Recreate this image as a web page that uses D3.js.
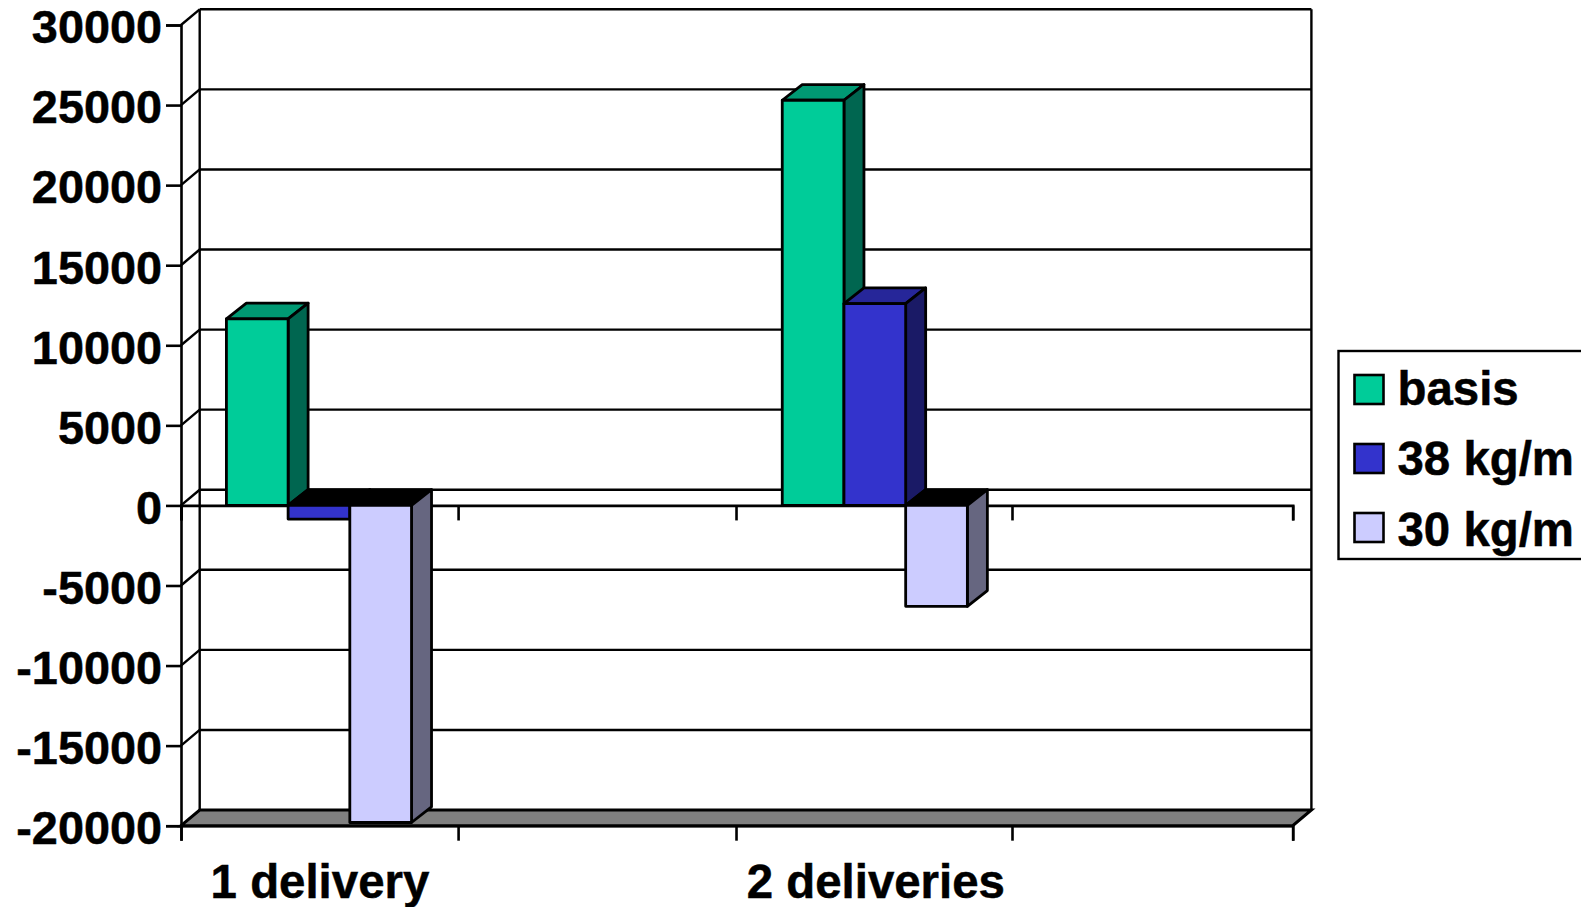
<!DOCTYPE html>
<html>
<head>
<meta charset="utf-8">
<script src="https://cdn.jsdelivr.net/npm/d3@7"></script>
<style>
  html, body { margin: 0; padding: 0; background: #fff; overflow: hidden; }
  text { font-family: "Liberation Sans", Arial, sans-serif; font-weight: bold; fill: #000; stroke: #000; stroke-width: 0.5px; }
</style>
</head>
<body>
<svg id="chart" width="1581" height="907"></svg>
<script>
// Chart data
const categories = ['1 delivery', '', '2 deliveries', ''];
const seriesNames = ['basis', '38 kg/m', '30 kg/m'];
const basis = [11650, null, 25300, null];
const kg38 = [-850, null, 12600, null];
const kg30 = [-19800, null, -6300, null];
const yTicks = [30000, 25000, 20000, 15000, 10000, 5000, 0, -5000, -10000, -15000, -20000];
const xTickValues = [0, 0.997, 1.997, 2.99, 4];

const seriesValues = [basis, kg38, kg30];
const frontColors = ['#00cc99', '#3333cc', '#ccccff'];
const topColors = ['#009973', '#262699', '#9999bf'];
const sideColors = ['#006650', '#1a1a66', '#666680'];

// Dimensions, front plane of the axes and depth of the 3D box
const plotLeft = 181, plotRight = 1292.7, plotTop = 25, plotBottom = 825.7;
const depthX = 18.7, depthY = 15.7;
const barDepthX = 20;

const svg = d3.select('#chart');

const yScale = d3.scaleLinear().domain([-20000, 30000]).range([plotBottom, plotTop]);
const xScale = d3.scaleBand().domain(d3.range(categories.length)).range([plotLeft, plotRight]);
const xTickScale = d3.scaleLinear().domain([0, categories.length]).range([plotLeft, plotRight]);
const barScale = d3.scaleBand().domain(d3.range(seriesNames.length))
  .range([-1, xScale.bandwidth() - 1]).paddingOuter(0.752);

const poly = pts => pts.map(p => p.join(',')).join(' ');

// Floor
svg.append('polygon')
  .attr('points', poly([[plotLeft, plotBottom], [plotLeft + depthX, plotBottom - depthY], [plotRight + depthX, plotBottom - depthY], [plotRight, plotBottom]]))
  .attr('fill', '#808080').attr('stroke', '#000').attr('stroke-width', 3);

// Back wall gridlines and the depth lines going to them
const grid = svg.append('g').attr('stroke', '#000').attr('stroke-width', 2.4);
yTicks.slice(0, -1).forEach(t => {
  grid.append('line')
    .attr('x1', plotLeft).attr('y1', yScale(t))
    .attr('x2', plotLeft + depthX).attr('y2', yScale(t) - depthY);
  grid.append('line')
    .attr('x1', plotLeft + depthX).attr('y1', yScale(t) - depthY)
    .attr('x2', plotRight + depthX).attr('y2', yScale(t) - depthY);
});
grid.append('line')
  .attr('x1', plotLeft + depthX).attr('y1', yScale(30000) - depthY)
  .attr('x2', plotLeft + depthX).attr('y2', plotBottom - depthY);
grid.append('line')
  .attr('x1', plotRight + depthX).attr('y1', yScale(30000) - depthY)
  .attr('x2', plotRight + depthX).attr('y2', plotBottom - depthY);

// Axes
const yAxis = d3.axisLeft(yScale).tickValues(yTicks).tickSize(15).tickPadding(4).tickFormat(d => String(d));
const yAxisG = svg.append('g').attr('transform', `translate(${plotLeft},0)`).call(yAxis);
yAxisG.selectAll('text').attr('font-size', 46.8).attr('dy', '0.38em');

const xTicks = d3.axisBottom(xTickScale).tickValues(xTickValues).tickSize(15).tickFormat('');
[yScale(0), plotBottom].forEach(y => {
  svg.append('g').attr('transform', `translate(0,${y})`).call(xTicks);
});
svg.selectAll('.domain, .tick line').attr('stroke', '#000').attr('stroke-width', 2.6);

// Category labels
const xLabels = svg.append('g').attr('transform', `translate(0,${plotBottom})`)
  .call(d3.axisBottom(xScale).tickSize(0).tickPadding(39).tickFormat(i => categories[i]));
xLabels.select('.domain').remove();
xLabels.selectAll('text').attr('font-size', 47.4);

// Bars
categories.forEach((c, i) => {
  seriesValues.forEach((values, s) => {
    const v = values[i];
    if (v === null) return;
    const x0 = xScale(i) + barScale(s);
    const x1 = x0 + barScale.bandwidth();
    const yA = yScale(Math.max(v, 0));
    const yB = yScale(Math.min(v, 0));
    const g = svg.append('g').attr('stroke', '#000').attr('stroke-width', 2.8).attr('stroke-linejoin', 'round');
    // negative bars show a black cap at the zero plane
    g.append('polygon')
      .attr('points', poly([[x0, yA], [x0 + barDepthX, yA - depthY], [x1 + barDepthX, yA - depthY], [x1, yA]]))
      .attr('fill', v < 0 ? '#000' : topColors[s]);
    g.append('polygon')
      .attr('points', poly([[x1, yA], [x1 + barDepthX, yA - depthY], [x1 + barDepthX, yB - depthY], [x1, yB]]))
      .attr('fill', sideColors[s]);
    g.append('rect')
      .attr('x', x0).attr('y', yA)
      .attr('width', x1 - x0).attr('height', yB - yA)
      .attr('fill', frontColors[s]);
  });
});

// Legend
const legend = svg.append('g').attr('transform', 'translate(1338.5,351)');
legend.append('rect')
  .attr('width', 300).attr('height', 208)
  .attr('fill', '#fff').attr('stroke', '#000').attr('stroke-width', 2.4);
const legendY = d3.scalePoint().domain(seriesNames).range([39, 177]);
const legendTextY = d3.scalePoint().domain(seriesNames).range([53.5, 195]);
seriesNames.forEach((name, s) => {
  legend.append('rect')
    .attr('x', 16).attr('y', legendY(name) - 15)
    .attr('width', 29).attr('height', 29)
    .attr('fill', frontColors[s]).attr('stroke', '#000').attr('stroke-width', 2.6);
  legend.append('text')
    .attr('x', 59).attr('y', legendTextY(name))
    .attr('font-size', 47.4)
    .text(name);
});
</script>
</body>
</html>
